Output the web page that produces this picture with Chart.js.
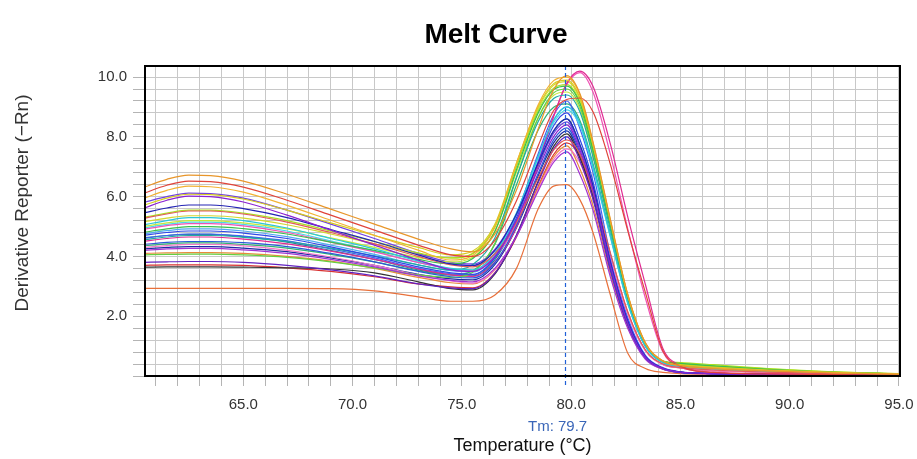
<!DOCTYPE html>
<html>
<head>
<meta charset="utf-8">
<title>Melt Curve</title>
<script src="https://cdn.jsdelivr.net/npm/chart.js@4.4.1/dist/chart.umd.min.js"></script>
<style>
  html, body { margin: 0; padding: 0; background: #fff; }
  #wrap { position: relative; width: 917px; height: 459px; }
</style>
</head>
<body>
<div id="wrap"><canvas id="melt" width="917" height="459"></canvas></div>
<script>
// Sampled temperatures (°C) for every well
var temps = [60.4, 61.5, 62.5, 63.5, 65, 67, 69, 71, 73, 74.5,
             75.5, 76.5, 77.5, 78.5, 79.2, 79.8,
             80.4, 81.0, 81.8, 82.6, 83.4, 84.2, 85.0,
             86.5, 89, 92, 95];

// Derivative reporter (-Rn) per well
var wellA1 = [6.3,6.58,6.72,6.7,6.52,6.08,5.58,5.08,4.58,4.25, 4.15,4.74,6.22,8.28,9.58,10.05, 9.45,7.84,5.23,2.71,1.11,0.5,0.35, 0.25,0.17,0.1,0.06];
var wellA2 = [6.1,6.38,6.52,6.5,6.32,5.88,5.38,4.88,4.38,4.05, 4.0,4.53,5.86,7.71,8.88,9.25, 9.3,8.84,7.07,4.84,2.79,0.84,0.33, 0.12,0.07,0.05,0.03];
var wellA3 = [5.93,6.21,6.35,6.33,6.15,5.71,5.21,4.71,4.21,3.88, 4.03,4.96,7.11,9.08,9.88,10.0, 9.4,7.8,5.2,2.7,1.1,0.5,0.35, 0.27,0.18,0.11,0.06];
var wellA4 = [5.7,5.95,6.08,6.07,5.92,5.55,5.12,4.7,4.3,4.05, 4.18,5.06,7.13,9.02,9.78,9.9, 9.31,7.72,5.15,2.67,1.09,0.5,0.38, 0.3,0.2,0.12,0.07];
var wellA5 = [5.6,5.88,6.02,6.0,5.82,5.38,4.88,4.38,3.88,3.55, 3.5,3.99,5.22,6.93,8.01,8.4, 7.56,6.22,3.7,1.76,0.63,0.25,0.13, 0.08,0.05,0.04,0.03];
var wellA6 = [5.45,5.62,5.72,5.72,5.6,5.3,4.9,4.5,4.05,3.75, 3.7,4.19,5.42,7.13,8.21,8.6, 7.74,6.36,3.78,1.81,0.65,0.26,0.13, 0.08,0.05,0.04,0.03];
var wellA7 = [5.27,5.42,5.52,5.52,5.42,5.15,4.8,4.42,4.0,3.72, 3.65,4.08,5.14,6.63,7.56,7.9, 7.43,6.16,4.11,2.13,0.87,0.4,0.28, 0.2,0.13,0.08,0.05];
var wellA8 = [5.05,5.2,5.3,5.3,5.2,4.95,4.6,4.25,3.85,3.6, 3.55,4.1,5.46,7.37,8.56,9.0, 8.46,7.02,4.68,2.43,0.99,0.45,0.32, 0.24,0.16,0.1,0.06];
var wellB1 = [4.8,4.92,5.0,5.0,4.93,4.75,4.48,4.2,3.9,3.75, 3.93,4.82,6.9,8.81,9.58,9.7, 9.12,7.57,5.04,2.62,1.07,0.5,0.42, 0.34,0.22,0.12,0.07];
var wellB2 = [4.7,4.8,4.85,4.85,4.78,4.6,4.32,4.0,3.65,3.45, 3.4,3.94,5.29,7.18,8.37,8.8, 7.92,6.51,3.87,1.85,0.66,0.26,0.13, 0.08,0.05,0.04,0.03];
var wellB3 = [4.55,4.65,4.7,4.7,4.64,4.5,4.28,4.02,3.72,3.55, 3.73,4.6,6.65,8.52,9.28,9.4, 8.84,7.33,4.89,2.54,1.03,0.47,0.36, 0.27,0.18,0.1,0.06];
var wellB4 = [4.4,4.47,4.5,4.5,4.46,4.33,4.1,3.82,3.5,3.32, 3.28,3.78,5.04,6.79,7.9,8.3, 7.47,6.14,3.65,1.74,0.62,0.25,0.12, 0.08,0.05,0.04,0.03];
var wellB5 = [4.2,4.25,4.27,4.27,4.22,4.1,3.9,3.65,3.35,3.2, 3.15,3.59,4.67,6.2,7.15,7.5, 6.75,5.55,3.3,1.58,0.56,0.23,0.11, 0.07,0.05,0.04,0.03];
var wellB6 = [4.05,4.07,4.08,4.08,4.05,3.97,3.82,3.62,3.38,3.3, 3.47,4.42,6.63,8.65,9.47,9.6, 9.02,7.49,4.99,2.59,1.06,0.48,0.4, 0.32,0.21,0.12,0.07];
var wellB7 = [3.8,3.82,3.83,3.83,3.8,3.7,3.55,3.35,3.08,2.95, 2.92,3.43,4.7,6.48,7.59,8.0, 7.2,5.92,3.52,1.68,0.6,0.24,0.12, 0.08,0.05,0.04,0.03];
var wellB8 = [3.64,3.65,3.65,3.65,3.64,3.62,3.58,3.45,3.15,2.92, 2.88,3.4,4.71,6.53,7.68,8.1, 7.29,5.99,3.56,1.7,0.61,0.24,0.12, 0.08,0.05,0.04,0.03];
var wellC1 = [2.93,2.93,2.93,2.93,2.93,2.93,2.92,2.85,2.65,2.5, 2.5,2.7,3.6,5.6,6.35,6.4, 5.9,4.8,2.7,0.75,0.25,0.12,0.08, 0.06,0.04,0.03,0.02];
var wellC2 = [4.5,4.6,4.65,4.65,4.58,4.42,4.18,3.9,3.58,3.38, 3.33,3.81,4.98,7.11,8.69,9.79, 10.2,9.69,7.75,5.3,3.06,0.92,0.36, 0.12,0.07,0.05,0.03];
var wellC3 = [4.9,5.03,5.1,5.1,5.02,4.8,4.48,4.15,3.8,3.58, 3.52,3.98,5.11,7.17,8.69,9.75, 10.15,9.5,7.4,4.9,2.6,0.8,0.3, 0.12,0.07,0.05,0.03];
var wellC4 = [4.3,4.36,4.4,4.4,4.35,4.2,3.98,3.7,3.38,3.18, 3.1,3.55,4.68,6.25,7.24,7.6, 7.14,5.93,3.95,2.05,0.84,0.38,0.27, 0.18,0.12,0.07,0.04];
var wellC5 = [5.3,5.45,5.55,5.55,5.45,5.2,4.85,4.5,4.12,3.95, 4.09,4.97,7.01,8.88,9.63,9.75, 9.17,7.61,5.07,2.63,1.07,0.5,0.45, 0.38,0.25,0.14,0.08];
var wellC6 = [5.0,5.12,5.2,5.2,5.12,4.92,4.62,4.3,3.96,3.82, 3.97,4.83,6.82,8.65,9.39,9.5, 8.93,7.41,4.94,2.57,1.05,0.48,0.42, 0.35,0.24,0.13,0.07];
var wellC7 = [4.95,5.07,5.15,5.15,5.07,4.85,4.52,4.18,3.8,3.58, 3.53,4.07,5.41,7.29,8.47,8.9, 8.37,6.94,4.63,2.4,0.98,0.45,0.33, 0.25,0.17,0.1,0.06];
var wellC8 = [4.6,4.7,4.75,4.75,4.68,4.52,4.25,3.95,3.6,3.42, 3.38,3.96,5.42,7.45,8.73,9.2, 8.28,6.81,4.05,1.93,0.69,0.28,0.14, 0.08,0.05,0.04,0.03];
var wellD1 = [4.35,4.42,4.45,4.45,4.4,4.28,4.07,3.82,3.52,3.38, 3.52,4.39,6.4,8.24,8.99,9.1, 8.55,7.1,4.73,2.46,1.0,0.46,0.36, 0.28,0.19,0.11,0.06];
var wellD2 = [5.8,6.0,6.12,6.1,5.95,5.55,5.08,4.6,4.1,3.8, 3.75,4.23,5.41,7.08,8.12,8.5, 7.65,6.29,3.74,1.79,0.64,0.26,0.13, 0.08,0.05,0.04,0.03];
var wellD3 = [4.1,4.12,4.13,4.13,4.1,4.0,3.84,3.6,3.3,3.12, 3.08,3.54,4.7,6.31,7.33,7.7, 6.93,5.7,3.39,1.62,0.58,0.23,0.12, 0.08,0.05,0.04,0.03];
var wellD4 = [4.62,4.7,4.74,4.74,4.66,4.48,4.2,3.9,3.55,3.38, 3.35,3.88,5.19,7.03,8.18,8.6, 7.74,6.36,3.78,1.81,0.65,0.26,0.13, 0.08,0.05,0.04,0.03];
var wellD5 = [5.15,5.28,5.36,5.36,5.28,5.06,4.75,4.42,4.08,3.95, 4.11,4.99,7.07,8.96,9.73,9.85, 9.26,7.68,5.12,2.66,1.08,0.49,0.4, 0.32,0.22,0.13,0.08];
var wellD6 = [3.7,3.72,3.72,3.72,3.7,3.62,3.5,3.32,3.08,2.98, 2.95,3.44,4.65,6.35,7.41,7.8, 7.33,6.08,4.06,2.11,0.86,0.39,0.27, 0.18,0.12,0.07,0.04];
var wellD7 = [4.75,4.86,4.92,4.92,4.85,4.66,4.38,4.07,3.72,3.52, 3.48,4.03,5.41,7.34,8.56,9.0, 8.46,7.02,4.68,2.43,0.99,0.45,0.32, 0.24,0.16,0.1,0.06];
var wellD8 = [4.25,4.3,4.33,4.33,4.28,4.16,3.95,3.7,3.4,3.25, 3.22,3.72,4.96,6.71,7.8,8.2, 7.38,6.07,3.61,1.72,0.62,0.25,0.12, 0.08,0.05,0.04,0.03];

var wellNames = ['A1','A2','A3','A4','A5','A6','A7','A8','B1','B2','B3','B4','B5','B6','B7','B8',
                 'C1','C2','C3','C4','C5','C6','C7','C8','D1','D2','D3','D4','D5','D6','D7','D8'];
var wellValues = [wellA1, wellA2, wellA3, wellA4, wellA5, wellA6, wellA7, wellA8,
                  wellB1, wellB2, wellB3, wellB4, wellB5, wellB6, wellB7, wellB8,
                  wellC1, wellC2, wellC3, wellC4, wellC5, wellC6, wellC7, wellC8,
                  wellD1, wellD2, wellD3, wellD4, wellD5, wellD6, wellD7, wellD8];
var wellColors = ['#e8962a','#e0443a','#f2b233','#d6cc1e','#8a22d2','#2424b4','#e25a5a','#2cc6da',
                  '#3cbf4c','#3048e8','#22aaa2','#2a5ad8','#a232d2','#66d042','#6222c2','#333333',
                  '#e8703a','#e02a92','#f052b6','#f27ac8','#a8e022','#c4e83a','#48d8e8','#4262f0',
                  '#32b272','#7242e2','#e88a3a','#228a92','#d2d832','#d83232','#52aaf2','#1c2ca2'];

var xTickLabels = ['65.0', '70.0', '75.0', '80.0', '85.0', '90.0', '95.0'];
var yTickLabels = ['2.0', '4.0', '6.0', '8.0', '10.0'];
var tmValue = 79.7;

var FONT = '"Liberation Sans", Arial, sans-serif';
Chart.defaults.font.family = FONT;

// Build one line dataset per well
var datasets = [];
for (var i = 0; i < wellValues.length; i++) {
    var pts = [];
    for (var j = 0; j < temps.length; j++) {
        pts.push({ x: temps[j], y: wellValues[i][j] });
    }
    datasets.push({
        label: wellNames[i],
        data: pts,
        borderColor: wellColors[i],
        borderWidth: 1.2,
        pointRadius: 0,
        fill: false,
        cubicInterpolationMode: 'monotone'
    });
}

// Title, axis titles, Tm marker and the plot frame
var meltDecor = {
    id: 'meltDecor',
    afterDatasetsDraw: function(chart) {
        var ctx = chart.ctx;
        var area = chart.chartArea;
        var tmX = Math.round(chart.scales.x.getPixelForValue(tmValue)) + 0.5;

        ctx.save();
        ctx.strokeStyle = '#2060d8';
        ctx.lineWidth = 1.2;
        ctx.setLineDash([4, 3]);
        ctx.beginPath();
        ctx.moveTo(tmX, area.top);
        ctx.lineTo(tmX, area.bottom + 12);
        ctx.stroke();
        ctx.setLineDash([]);

        ctx.strokeStyle = '#000';
        ctx.lineWidth = 2;
        ctx.strokeRect(area.left, area.top, area.right - area.left, area.bottom - area.top);
        ctx.restore();
    },
    afterDraw: function(chart) {
        var ctx = chart.ctx;
        var area = chart.chartArea;
        var tmX = chart.scales.x.getPixelForValue(tmValue);

        ctx.save();
        ctx.textAlign = 'center';
        ctx.textBaseline = 'middle';

        ctx.fillStyle = '#000';
        ctx.font = 'bold 28px ' + FONT;
        ctx.fillText('Melt Curve', 496, 35);

        ctx.fillStyle = '#3a66b8';
        ctx.font = '15px ' + FONT;
        ctx.fillText('Tm: ' + tmValue.toFixed(1), tmX - 7, 427);

        ctx.fillStyle = '#111';
        ctx.font = '18px ' + FONT;
        ctx.fillText('Temperature (°C)', (area.left + area.right) / 2, 446);

        ctx.translate(23, 203);
        ctx.rotate(-Math.PI / 2);
        ctx.fillStyle = '#333';
        ctx.font = '19px ' + FONT;
        ctx.fillText('Derivative Reporter (\u2212Rn)', 0, 0);
        ctx.restore();
    }
};

var meltChart = new Chart(document.getElementById('melt').getContext('2d'), {
    type: 'line',
    data: { datasets: datasets },
    plugins: [meltDecor],
    options: {
        responsive: false,
        animation: false,
        devicePixelRatio: 1,
        events: [],
        layout: { padding: { top: 66, right: 17, bottom: 0, left: 0 } },
        plugins: {
            legend: { display: false },
            tooltip: { enabled: false }
        },
        scales: {
            x: {
                type: 'linear',
                min: 60.5,
                max: 95.05,
                afterFit: function(scale) {
                    scale.height = 83;
                    scale.paddingLeft = 0;
                    scale.paddingRight = 0;
                },
                border: { color: '#000', width: 2 },
                grid: { color: '#c8c8c8', lineWidth: 1, tickLength: 10, tickColor: '#b4b4b4' },
                ticks: {
                    stepSize: 1,
                    includeBounds: false,
                    autoSkip: false,
                    minRotation: 0,
                    maxRotation: 0,
                    padding: 10,
                    color: '#333',
                    font: { size: 15 },
                    callback: function(value) {
                        var s = Number(value).toFixed(1);
                        return xTickLabels.indexOf(s) >= 0 ? s : '';
                    }
                }
            },
            y: {
                type: 'linear',
                min: 0,
                max: 10.37,
                afterFit: function(scale) {
                    scale.width = 145;
                    scale.paddingTop = 0;
                    scale.paddingBottom = 0;
                },
                border: { color: '#000', width: 2 },
                grid: { color: '#c8c8c8', lineWidth: 1, tickLength: 12, tickColor: '#b4b4b4' },
                ticks: {
                    stepSize: 0.4,
                    includeBounds: false,
                    autoSkip: false,
                    padding: 6,
                    color: '#333',
                    font: { size: 15 },
                    callback: function(value) {
                        var s = Number(value).toFixed(1);
                        return yTickLabels.indexOf(s) >= 0 ? s : '';
                    }
                }
            }
        }
    }
});
</script>
</body>
</html>
